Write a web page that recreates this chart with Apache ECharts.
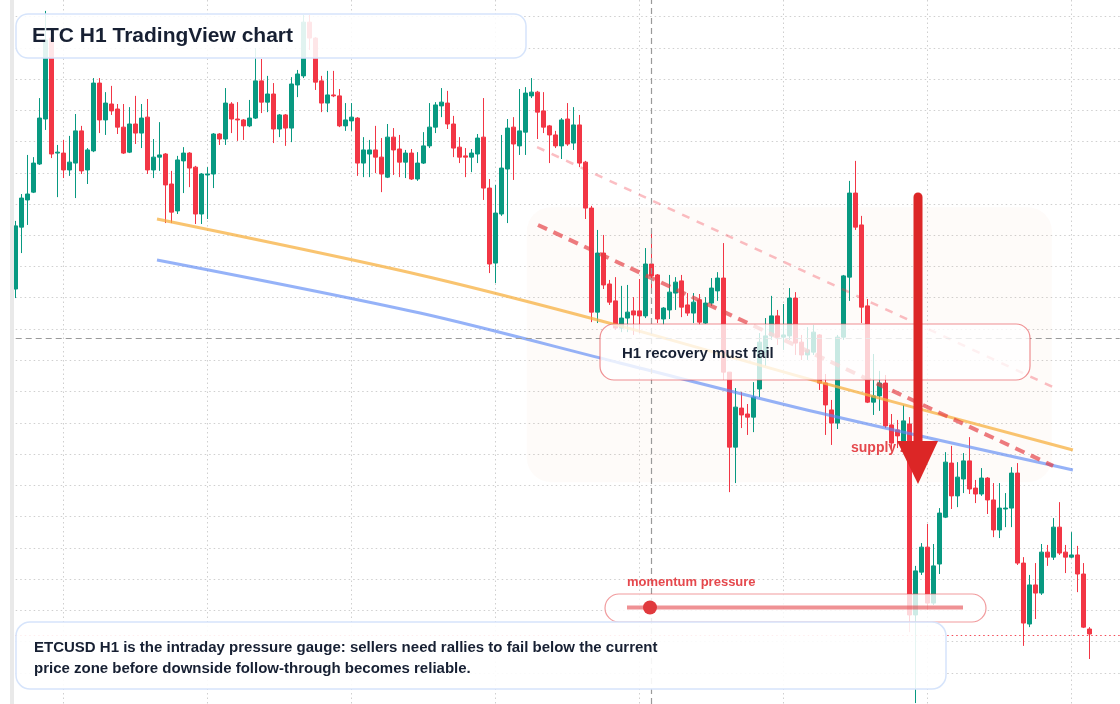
<!DOCTYPE html>
<html>
<head>
<meta charset="utf-8">
<title>ETC H1 TradingView chart</title>
<script src="https://cdn.jsdelivr.net/npm/echarts@6/dist/echarts.min.js"></script>
<style>
  html, body { margin: 0; padding: 0; background: #ffffff; }
  #chart { width: 1120px; height: 704px; }
</style>
</head>
<body>
<div id="chart"></div>
<script>
// H1 candles, oldest first (price)
const opens = [
  9.328, 9.526, 9.613, 9.638, 9.728, 9.872, 10.131, 9.763, 9.763, 9.709,
  9.731, 9.834, 9.709, 9.770, 9.987, 9.869, 9.920, 9.904, 9.846, 9.766,
  9.856, 9.827, 9.878, 9.709, 9.750, 9.760, 9.664, 9.578, 9.738, 9.763,
  9.718, 9.568, 9.693, 9.696, 9.824, 9.808, 9.920, 9.872, 9.869, 9.850,
  9.875, 9.994, 9.926, 9.952, 9.840, 9.885, 9.843, 9.981, 10.010, 10.182,
  10.131, 9.994, 9.923, 9.949, 9.946, 9.850, 9.866, 9.875, 9.731, 9.760,
  9.773, 9.750, 9.686, 9.814, 9.776, 9.734, 9.763, 9.680, 9.731, 9.786,
  9.846, 9.914, 9.923, 9.856, 9.782, 9.754, 9.750, 9.760, 9.814, 9.651,
  9.411, 9.568, 9.712, 9.846, 9.786, 9.830, 9.946, 9.958, 9.898, 9.850,
  9.821, 9.786, 9.872, 9.795, 9.853, 9.734, 9.587, 9.254, 9.443, 9.344,
  9.290, 9.203, 9.235, 9.258, 9.258, 9.242, 9.408, 9.373, 9.232, 9.261,
  9.315, 9.354, 9.277, 9.251, 9.293, 9.219, 9.283, 9.322, 9.363, 9.062,
  8.822, 8.947, 8.928, 8.918, 9.008, 9.126, 9.178, 9.242, 9.174, 9.178,
  9.299, 9.158, 9.117, 9.126, 9.181, 9.027, 8.941, 8.899, 9.174, 9.366,
  9.635, 9.533, 9.274, 8.966, 8.986, 9.027, 8.893, 8.877, 8.835, 8.896,
  8.285, 8.422, 8.502, 8.323, 8.448, 8.598, 8.771, 8.666, 8.720, 8.778,
  8.691, 8.672, 8.723, 8.653, 8.557, 8.624, 8.627, 8.739, 8.451, 8.256,
  8.381, 8.355, 8.486, 8.470, 8.566, 8.486, 8.470, 8.477, 8.416, 8.240
];
const closes = [
  9.530, 9.619, 9.632, 9.731, 9.875, 10.125, 9.760, 9.766, 9.709, 9.734,
  9.834, 9.706, 9.773, 9.987, 9.869, 9.923, 9.898, 9.846, 9.763, 9.856,
  9.827, 9.875, 9.709, 9.750, 9.757, 9.661, 9.574, 9.741, 9.763, 9.715,
  9.568, 9.696, 9.696, 9.824, 9.808, 9.923, 9.872, 9.869, 9.850, 9.875,
  9.994, 9.926, 9.952, 9.840, 9.885, 9.843, 9.984, 10.016, 10.182, 10.131,
  9.990, 9.923, 9.949, 9.946, 9.850, 9.869, 9.878, 9.731, 9.773, 9.773,
  9.750, 9.696, 9.814, 9.773, 9.734, 9.763, 9.680, 9.731, 9.786, 9.846,
  9.917, 9.926, 9.856, 9.779, 9.750, 9.750, 9.763, 9.811, 9.651, 9.408,
  9.571, 9.715, 9.843, 9.792, 9.834, 9.955, 9.958, 9.894, 9.846, 9.821,
  9.786, 9.869, 9.792, 9.853, 9.731, 9.587, 9.254, 9.443, 9.341, 9.286,
  9.203, 9.235, 9.254, 9.245, 9.242, 9.408, 9.370, 9.232, 9.267, 9.318,
  9.350, 9.270, 9.251, 9.286, 9.222, 9.283, 9.331, 9.363, 9.062, 8.822,
  8.950, 8.925, 8.918, 8.982, 9.158, 9.178, 9.242, 9.174, 9.181, 9.299,
  9.155, 9.117, 9.133, 9.190, 9.027, 8.957, 8.899, 9.174, 9.370, 9.635,
  9.526, 9.270, 8.966, 8.986, 9.027, 8.890, 8.835, 8.858, 8.906, 8.285,
  8.426, 8.502, 8.323, 8.442, 8.611, 8.774, 8.666, 8.726, 8.778, 8.688,
  8.672, 8.723, 8.653, 8.557, 8.627, 8.627, 8.739, 8.451, 8.259, 8.381,
  8.355, 8.486, 8.470, 8.566, 8.483, 8.470, 8.477, 8.416, 8.246, 8.224
];
const lows = [
  9.299, 9.443, 9.533, 9.635, 9.725, 9.837, 9.747, 9.622, 9.683, 9.690,
  9.619, 9.696, 9.664, 9.766, 9.827, 9.821, 9.885, 9.824, 9.760, 9.763,
  9.792, 9.779, 9.696, 9.683, 9.706, 9.539, 9.539, 9.568, 9.635, 9.654,
  9.536, 9.536, 9.552, 9.651, 9.789, 9.789, 9.827, 9.802, 9.805, 9.846,
  9.872, 9.891, 9.894, 9.795, 9.814, 9.786, 9.798, 9.942, 10.003, 10.093,
  9.965, 9.894, 9.894, 9.942, 9.846, 9.834, 9.834, 9.690, 9.686, 9.686,
  9.699, 9.638, 9.683, 9.693, 9.686, 9.683, 9.677, 9.674, 9.728, 9.779,
  9.827, 9.878, 9.840, 9.750, 9.731, 9.686, 9.702, 9.731, 9.613, 9.379,
  9.347, 9.562, 9.539, 9.677, 9.757, 9.757, 9.939, 9.808, 9.827, 9.731,
  9.779, 9.744, 9.786, 9.773, 9.718, 9.552, 9.222, 9.219, 9.328, 9.277,
  9.197, 9.190, 9.190, 9.181, 9.187, 9.235, 9.328, 9.219, 9.213, 9.232,
  9.261, 9.238, 9.242, 9.219, 9.213, 9.216, 9.274, 9.290, 9.037, 8.678,
  8.707, 8.883, 8.861, 8.870, 8.982, 9.082, 9.165, 9.149, 9.133, 9.165,
  9.117, 9.101, 9.101, 9.117, 9.005, 8.861, 8.829, 8.880, 9.165, 9.290,
  9.517, 9.219, 8.963, 8.925, 8.938, 8.883, 8.813, 8.819, 8.829, 8.230,
  8.003, 8.413, 8.301, 8.317, 8.416, 8.595, 8.624, 8.630, 8.675, 8.672,
  8.643, 8.666, 8.608, 8.534, 8.531, 8.566, 8.566, 8.445, 8.186, 8.246,
  8.272, 8.349, 8.442, 8.461, 8.477, 8.419, 8.467, 8.358, 8.243, 8.144
];
const highs = [
  9.546, 9.632, 9.757, 9.750, 9.939, 10.218, 10.157, 9.789, 9.805, 9.818,
  9.888, 9.850, 9.779, 10.003, 10.003, 9.958, 9.978, 9.920, 9.920, 9.910,
  9.946, 9.920, 9.936, 9.808, 9.862, 9.763, 9.706, 9.754, 9.782, 9.766,
  9.722, 9.699, 9.718, 9.827, 9.827, 9.971, 9.926, 9.926, 9.872, 9.933,
  10.099, 10.064, 10.010, 9.987, 9.888, 9.888, 10.006, 10.029, 10.205, 10.205,
  10.134, 10.010, 10.026, 10.026, 9.968, 9.923, 9.923, 9.878, 9.814, 9.805,
  9.850, 9.811, 9.856, 9.843, 9.821, 9.773, 9.776, 9.766, 9.830, 9.923,
  9.926, 9.971, 9.962, 9.882, 9.814, 9.779, 9.776, 9.824, 9.939, 9.680,
  9.661, 9.821, 9.872, 9.878, 9.968, 9.974, 10.003, 9.962, 9.958, 9.853,
  9.834, 9.875, 9.923, 9.910, 9.885, 9.738, 9.594, 9.517, 9.501, 9.357,
  9.366, 9.338, 9.341, 9.302, 9.360, 9.459, 9.510, 9.376, 9.270, 9.373,
  9.366, 9.373, 9.315, 9.315, 9.312, 9.302, 9.363, 9.382, 9.475, 9.062,
  9.011, 8.998, 8.960, 9.030, 9.187, 9.235, 9.306, 9.261, 9.280, 9.331,
  9.318, 9.181, 9.206, 9.213, 9.184, 9.056, 8.973, 9.181, 9.373, 9.674,
  9.738, 9.562, 9.296, 9.120, 9.066, 9.053, 8.928, 8.909, 8.957, 8.918,
  8.442, 8.515, 8.576, 8.512, 8.627, 8.806, 8.826, 8.774, 8.803, 8.854,
  8.717, 8.755, 8.726, 8.707, 8.707, 8.675, 8.758, 8.771, 8.470, 8.413,
  8.451, 8.512, 8.509, 8.595, 8.646, 8.509, 8.550, 8.506, 8.451, 8.246
];

// drawn studies (x = bar index, y = price)
const curveIdx = [23.55, 67.4, 100.7, 134.05, 176.2];
const orangeCurve = [9.552, 9.373, 9.210, 9.030, 8.813];
const blueCurve = [9.421, 9.251, 9.091, 8.931, 8.749];
const upperChannelIdx = [86.9, 172.9];
const upperChannel = [9.782, 9.014];
const lowerChannelIdx = [87.05, 172.9];
const lowerChannel = [9.533, 8.762];
const supplyZone = [85.2, 9.590, 172.7, 8.710];   // x0, top, x1, bottom
const crossIdx = 106;
const crossPrice = 9.171;
const totalSlots = 185;   // 180 bars + right padding

(function () {
  const chart = echarts.init(document.getElementById('chart'));

  const slots = [];
  for (let i = 0; i < totalSlots; i++) slots.push('bar' + i);
  const candles = opens.map((o, i) => [o, closes[i], lows[i], highs[i]]);
  const lastClose = closes[closes.length - 1];
  const pairs = (xs, ys) => xs.map((x, i) => [x, ys[i]]);

  const FONT = '"Liberation Sans", Arial, sans-serif';
  const INK = '#172033';
  const RED = '#e5484d';
  const GRIDLINE = { color: '#cfcfcf', width: 1, type: [1.5, 3] };

  const option = {
    animation: false,
    backgroundColor: '#ffffff',
    grid: { left: 15.7, right: 0.3, top: 0, bottom: 0 },
    xAxis: [
      {
        type: 'category', data: slots, boundaryGap: false,
        axisLine: { show: false }, axisTick: { show: false }, axisLabel: { show: false },
        splitLine: { show: true, interval: (idx) => idx % 24 === 8, lineStyle: GRIDLINE }
      },
      { type: 'value', min: 0, max: totalSlots - 1, show: false }
    ],
    yAxis: {
      type: 'value', min: 8.0, max: 10.2528, interval: 0.1,
      axisLine: { show: false }, axisTick: { show: false }, axisLabel: { show: false },
      splitLine: { show: true, showMinLine: false, showMaxLine: false, lineStyle: GRIDLINE }
    },
    series: [
      {
        type: 'custom', xAxisIndex: 1, z: 1, silent: true,
        encode: { x: [0, 2], y: [1, 3] },
        data: [supplyZone],
        renderItem: (params, api) => {
          const a = api.coord([api.value(0), api.value(1)]);
          const b = api.coord([api.value(2), api.value(3)]);
          return { type: 'rect',
            shape: { x: a[0], y: a[1], width: b[0] - a[0], height: b[1] - a[1], r: 24 },
            style: { fill: 'rgba(240,165,110,0.045)' } };
        }
      },
      {
        type: 'candlestick', data: candles, barWidth: 4.4, clip: false,
        itemStyle: { color: '#089981', color0: '#f23645', borderColor: '#089981', borderColor0: '#f23645', borderWidth: 1 }
      },
      {
        type: 'line', xAxisIndex: 1, data: pairs(curveIdx, orangeCurve), smooth: 0.3,
        symbol: 'none', lineStyle: { color: 'rgba(247,176,64,0.75)', width: 3 },
        // last price line
        markLine: {
          silent: true, symbol: ['none', 'none'], label: { show: false },
          lineStyle: { color: '#f23645', width: 1.2, type: [1.5, 3], opacity: 0.9 },
          data: [{ yAxis: lastClose }]
        }
      },
      {
        type: 'line', xAxisIndex: 1, data: pairs(curveIdx, blueCurve), smooth: 0.3,
        symbol: 'none', lineStyle: { color: 'rgba(92,136,245,0.65)', width: 3 },
        // crosshair
        markLine: {
          silent: true, symbol: ['none', 'none'], label: { show: false },
          lineStyle: { color: '#9a9a9a', width: 1.2, type: [6, 4] },
          data: [{ xAxis: crossIdx }, { yAxis: crossPrice }]
        }
      },
      {
        type: 'line', xAxisIndex: 1, data: pairs(upperChannelIdx, upperChannel),
        symbol: 'none', lineStyle: { color: 'rgba(242,54,69,0.32)', width: 2.5, type: [8, 8] }
      },
      {
        type: 'line', xAxisIndex: 1, data: pairs(lowerChannelIdx, lowerChannel),
        symbol: 'none', lineStyle: { color: 'rgba(229,60,66,0.68)', width: 4, type: [10, 7] }
      }
    ],
    graphic: [
      { type: 'rect', z: 90, silent: true, shape: { x: 10, y: 0, width: 4, height: 704 }, style: { fill: '#e9e9e9' } },
      // title card
      { type: 'rect', z: 100, shape: { x: 16, y: 14, width: 510, height: 44, r: 12 },
        style: { fill: 'rgba(255,255,255,0.88)', stroke: '#d6e4fb', lineWidth: 1.5 } },
      { type: 'text', z: 101, x: 32, y: 36,
        style: { text: 'ETC H1 TradingView chart', font: 'bold 21px ' + FONT, fill: INK, verticalAlign: 'middle' } },
      // recovery callout
      { type: 'rect', z: 100, shape: { x: 600, y: 324, width: 430, height: 56, r: 14 },
        style: { fill: 'rgba(255,255,255,0.78)', stroke: 'rgba(229,72,77,0.6)', lineWidth: 1.2 } },
      { type: 'text', z: 101, x: 622, y: 354,
        style: { text: 'H1 recovery must fail', font: 'bold 15px ' + FONT, fill: INK, verticalAlign: 'middle' } },
      // supply zone label + arrow
      { type: 'text', z: 101, x: 851, y: 448,
        style: { text: 'supply zone', font: 'bold 14px ' + FONT, fill: RED, verticalAlign: 'middle' } },
      { type: 'line', z: 105, shape: { x1: 918, y1: 197, x2: 918, y2: 448 },
        style: { stroke: '#dc2626', lineWidth: 9, lineCap: 'round' } },
      { type: 'polygon', z: 105, shape: { points: [[897, 441], [938, 441], [918, 484]] },
        style: { fill: '#dc2626' } },
      // momentum gauge
      { type: 'text', z: 101, x: 627, y: 582.5,
        style: { text: 'momentum pressure', font: 'bold 13px ' + FONT, fill: RED, verticalAlign: 'middle' } },
      { type: 'rect', z: 100, shape: { x: 605, y: 594, width: 381, height: 28, r: 14 },
        style: { fill: 'rgba(255,255,255,0.8)', stroke: 'rgba(229,72,77,0.55)', lineWidth: 1.2 } },
      { type: 'line', z: 101, shape: { x1: 627, y1: 607.5, x2: 963, y2: 607.5 },
        style: { stroke: 'rgba(229,72,77,0.6)', lineWidth: 4 } },
      { type: 'circle', z: 102, shape: { cx: 650, cy: 607.5, r: 7 }, style: { fill: '#e03a3e' } },
      // bottom note
      { type: 'rect', z: 100, shape: { x: 16, y: 622, width: 930, height: 67, r: 14 },
        style: { fill: 'rgba(255,255,255,0.9)', stroke: '#d6e4fb', lineWidth: 1.5 } },
      { type: 'text', z: 101, x: 34, y: 658.5,
        style: { text: 'ETCUSD H1 is the intraday pressure gauge: sellers need rallies to fail below the current\nprice zone before downside follow-through becomes reliable.',
          font: 'bold 15px ' + FONT, fill: INK, lineHeight: 21, verticalAlign: 'middle' } }
    ]
  };

  chart.setOption(option);
  window.onresize = () => chart.resize();
})();
</script>
</body>
</html>
